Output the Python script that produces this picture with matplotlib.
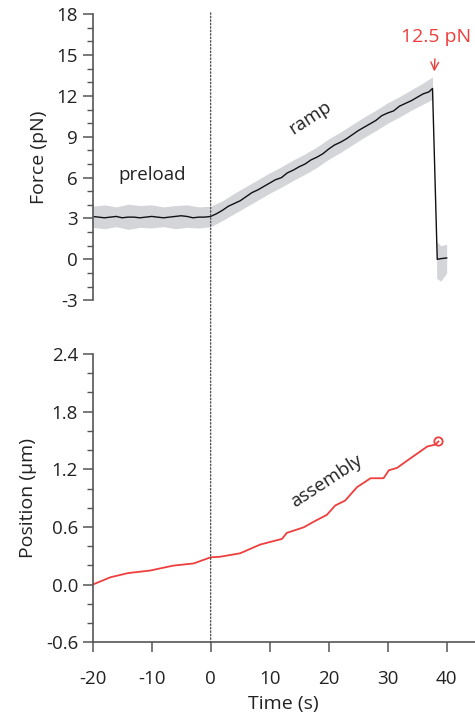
import numpy as np
import matplotlib
matplotlib.use("Agg")
from matplotlib import pyplot as plt
from matplotlib.patches import ConnectionPatch
from matplotlib.ticker import MultipleLocator

plt.rcParams['font.family'] = ['Open Sans', 'DejaVu Sans']
plt.rcParams['axes.unicode_minus'] = False

# force trace (smoothed, black)
force_t = [-20, -19, -18, -17, -16, -15, -14, -13, -12, -11, -10, -9, -8, -7, -6, -5, -4, -3, -2, -1, 0,
           1, 2, 3, 4, 5, 6, 7, 8, 9, 10, 11, 12, 13, 14, 15, 16, 17, 18, 19, 20,
           21, 22, 23, 24, 25, 26, 27, 28, 29, 30, 31, 32, 33, 34, 35, 36, 37, 37.6,
           38.4, 39, 40]
force_pn = [3.15, 3.1, 3.05, 3.1, 3.15, 3.05, 3.1, 3.1, 3.05, 3.1, 3.15, 3.1, 3.05, 3.1, 3.15, 3.2, 3.15, 3.05, 3.1, 3.1, 3.15,
            3.35, 3.6, 3.9, 4.1, 4.3, 4.6, 4.9, 5.1, 5.35, 5.6, 5.85, 6.0, 6.35, 6.55, 6.8, 7.0, 7.3, 7.5, 7.75, 8.1,
            8.4, 8.6, 8.85, 9.15, 9.45, 9.7, 9.95, 10.2, 10.55, 10.75, 10.9, 11.25, 11.45, 11.65, 11.9, 12.15, 12.3, 12.55,
            0.0, 0.05, 0.1]

# raw scatter envelope (gray band)
band_t = [-20, -18, -16, -14, -12, -10, -8, -6, -4, -2, 0,
          2, 4, 6, 8, 10, 12, 14, 16, 18, 20, 22, 24, 26, 28, 30, 32, 34, 36, 37.6]
band_hi = [3.9, 4.0, 3.85, 4.05, 3.95, 4.0, 3.85, 3.95, 4.0, 3.85, 3.9,
           4.3, 4.85, 5.35, 5.85, 6.35, 6.8, 7.3, 7.75, 8.25, 8.85, 9.35, 9.9, 10.45, 10.95, 11.5, 11.95, 12.45, 12.95, 13.4]
band_lo = [2.35, 2.25, 2.4, 2.2, 2.35, 2.3, 2.4, 2.25, 2.35, 2.3, 2.4,
           2.85, 3.35, 3.85, 4.35, 4.85, 5.3, 5.8, 6.25, 6.75, 7.35, 7.85, 8.4, 8.95, 9.45, 10.0, 10.45, 10.95, 11.4, 11.75]
drop_t = [38.3, 39, 40]
drop_hi = [1.3, 1.0, 1.1]
drop_lo = [-1.4, -1.6, -1.0]

# bead position (red)
pos_t = [-20, -17, -14, -10.3, -6.3, -2.9, 0, 1.6, 5.0, 8.4, 12.1, 12.9, 15.8, 17.5, 19.7, 21.1, 22.8,
         24.8, 27.1, 29.3, 30.2, 31.6, 33.3, 35.5, 36.7, 38.1, 38.6]
pos_um = [0.0, 0.076, 0.12, 0.146, 0.198, 0.22, 0.284, 0.29, 0.326, 0.417, 0.476, 0.538, 0.597, 0.656, 0.726,
          0.823, 0.875, 1.014, 1.107, 1.107, 1.19, 1.215, 1.29, 1.385, 1.437, 1.458, 1.49]

red = '#ee3e3e'
axcol = '#555555'
txt = '#222222'

fig = plt.figure(figsize=(4.75, 7.13), dpi=100)
ax1 = fig.add_axes([0.195, 0.579, 0.805, 0.401])
ax2 = fig.add_axes([0.195, 0.0992, 0.805, 0.4043])

for ax in (ax1, ax2):
    ax.set_xlim(-20, 44.8)
    for s in ('top', 'right'):
        ax.spines[s].set_visible(False)
    ax.spines['left'].set_color(axcol)
    ax.spines['bottom'].set_color(axcol)
    ax.spines['left'].set_linewidth(1.2)
    ax.spines['bottom'].set_linewidth(1.2)
    ax.tick_params(which='major', length=7, width=1.1, color=axcol, labelsize=13.5, labelcolor=txt)
    ax.tick_params(which='minor', length=4.5, width=1.0, color=axcol)

# top panel
ax1.fill_between(band_t, band_lo, band_hi, color='#d3d5d9', lw=0)
ax1.fill_between(drop_t, drop_lo, drop_hi, color='#d3d5d9', lw=0)
ax1.plot(force_t, force_pn, color='#111111', lw=1.0)
ax1.set_ylim(-3, 18)
ax1.yaxis.set_major_locator(MultipleLocator(3))
ax1.yaxis.set_minor_locator(MultipleLocator(1))
ax1.spines['bottom'].set_visible(False)
ax1.set_xticks([])
ax1.set_ylabel('Force (pN)', fontsize=14, color=txt, labelpad=6)

ax1.text(-9.9, 6.2, 'preload', fontsize=13.5, color=txt, ha='center', va='center')
ax1.text(16.9, 10.4, 'ramp', fontsize=13.5, color=txt, ha='center', va='center', rotation=33)
ax1.annotate('12.5 pN', xy=(37.9, 13.8), xytext=(38.2, 16.3), fontsize=14, color=red,
             ha='center', va='center',
             arrowprops=dict(arrowstyle='->', color=red, lw=1.0, shrinkA=7, shrinkB=0))

# bottom panel
ax2.plot(pos_t, pos_um, color=red, lw=1.3)
ax2.plot(pos_t[-1], pos_um[-1], 'o', mfc='none', mec=red, ms=6, mew=1.3)
ax2.set_ylim(-0.6, 2.4)
ax2.yaxis.set_minor_locator(MultipleLocator(0.2))
ax2.set_yticks([-0.6, 0.0, 0.6, 1.2, 1.8, 2.4])
ax2.set_yticklabels(['-0.6', '0.0', '0.6', '1.2', '1.8', '2.4'])
ax2.set_xticks([-20, -10, 0, 10, 20, 30, 40])
ax2.tick_params(axis='x', pad=13)
ax2.set_ylabel('Position (µm)', fontsize=14, color=txt, labelpad=6)
ax2.set_xlabel('Time (s)', fontsize=14, color=txt, labelpad=5)
ax2.text(19.7, 1.08, 'assembly', fontsize=13.5, color=txt, ha='center', va='center', rotation=33)

# dotted marker at t = 0 through both panels
con = ConnectionPatch(xyA=(0, 18.1), coordsA=ax1.transData, xyB=(0, -0.6), coordsB=ax2.transData,
                      linestyle=(0, (1, 1.5)), color='#555555', lw=1.0)
fig.add_artist(con)

plt.savefig('out.png', dpi=100)
